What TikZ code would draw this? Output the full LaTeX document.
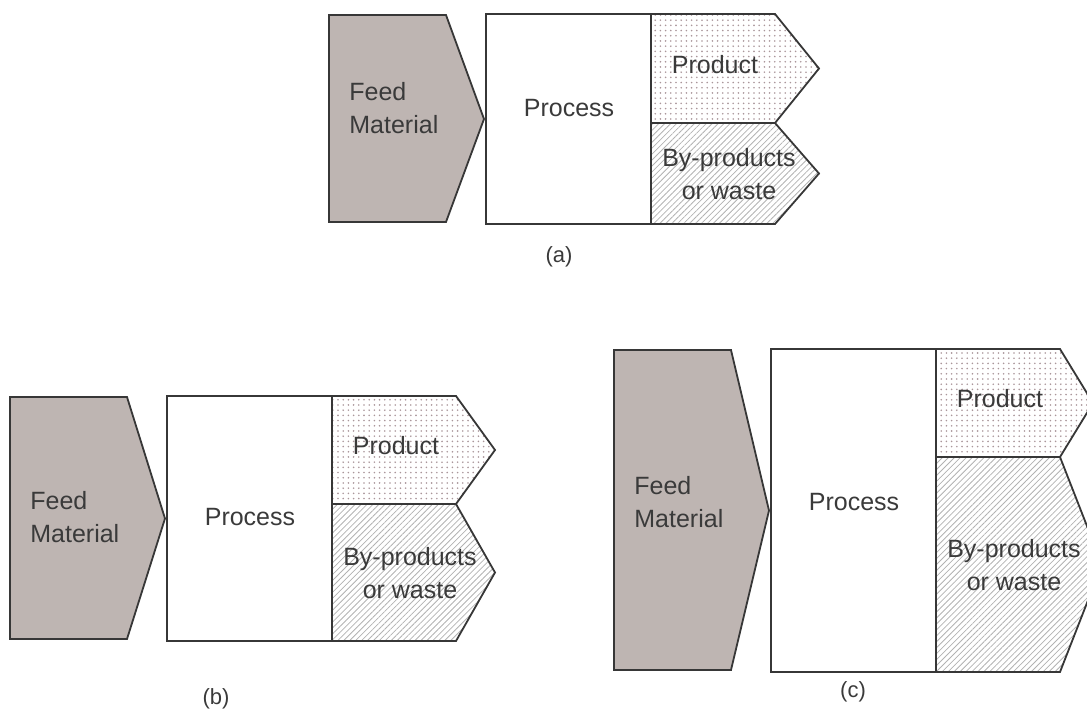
\documentclass[tikz,border=0pt]{standalone}
\usepackage{fontspec}
\setmainfont{Liberation Sans}
\usetikzlibrary{calc}
\usetikzlibrary{patterns.meta}

\definecolor{edge}{RGB}{55,55,55}
\definecolor{ink}{RGB}{58,58,58}
\definecolor{feed}{RGB}{190,181,178}
\definecolor{dotc}{RGB}{170,150,154}
\definecolor{hatch}{RGB}{178,178,178}

\begin{document}
\begin{tikzpicture}[x=0.5pt, y=-0.5pt,
    outline/.style={draw=edge, line width=0.9pt},
    dotted fill/.style={pattern={Dots[radius=0.45pt, distance=2.6pt]}, pattern color=dotc},
    hatched fill/.style={pattern={Lines[angle=45, distance=2.1pt, line width=0.4pt]}, pattern color=hatch},
    txt/.style={text=ink, font=\fontsize{12.5}{16.5}\selectfont, inner sep=0pt},
    caption/.style={text=ink, font=\fontsize{11}{13}\selectfont, inner sep=0pt}]

    \useasboundingbox (0, 0) rectangle (1087, 717);

    % process left / top / bottom / split / tips / text shift / caption
    \foreach \n/\xp/\yt/\yb/\ym/\ta/\tb/\dy/\lx/\ly in {
        a/486/14/224/123/819/819/-11/559/257,
        b/167/396/641/504/495/495/-1/216/699,
        c/771/349/672/457/1093/1102/-8/853/692} {

      \pgfmathsetmacro{\ymid}{(\yt+\yb)/2}
      \pgfmathsetmacro{\ya}{(\yt+\ym)/2}
      \pgfmathsetmacro{\yw}{(\ym+\yb)/2}

      \draw [outline, fill=feed] (\xp-157, \yt+1) -- (\xp-40, \yt+1)
      -- (\xp-2, \ymid) -- (\xp-40, \yb-2) -- (\xp-157, \yb-2) -- cycle;

      \draw [outline] (\xp, \yt) rectangle (\xp+165, \yb);

      \draw [outline, dotted fill] (\xp+165, \yt) -- (\xp+289, \yt)
      -- (\ta, \ya) -- (\xp+289, \ym) -- (\xp+165, \ym) -- cycle;

      \draw [outline, hatched fill] (\xp+165, \ym) -- (\xp+289, \ym)
      -- (\tb, \yw) -- (\xp+289, \yb) -- (\xp+165, \yb) -- cycle;

      \node [txt, anchor=west, align=left] (feed-\n)
      at (\xp-137, \ymid+\dy) {Feed\\Material};
      \node [txt] (proc-\n) at (\xp+83, \ymid+\dy) {Process};
      \node [txt] (prod-\n) at (\xp+229, \ya-4) {Product};
      \node [txt, align=center] (waste-\n)
      at (\xp+243, \yw+1) {By-products\\or waste};

      \node [caption] (cap-\n) at (\lx, \ly) {(\n)};
    }

  \end{tikzpicture}
\end{document}
